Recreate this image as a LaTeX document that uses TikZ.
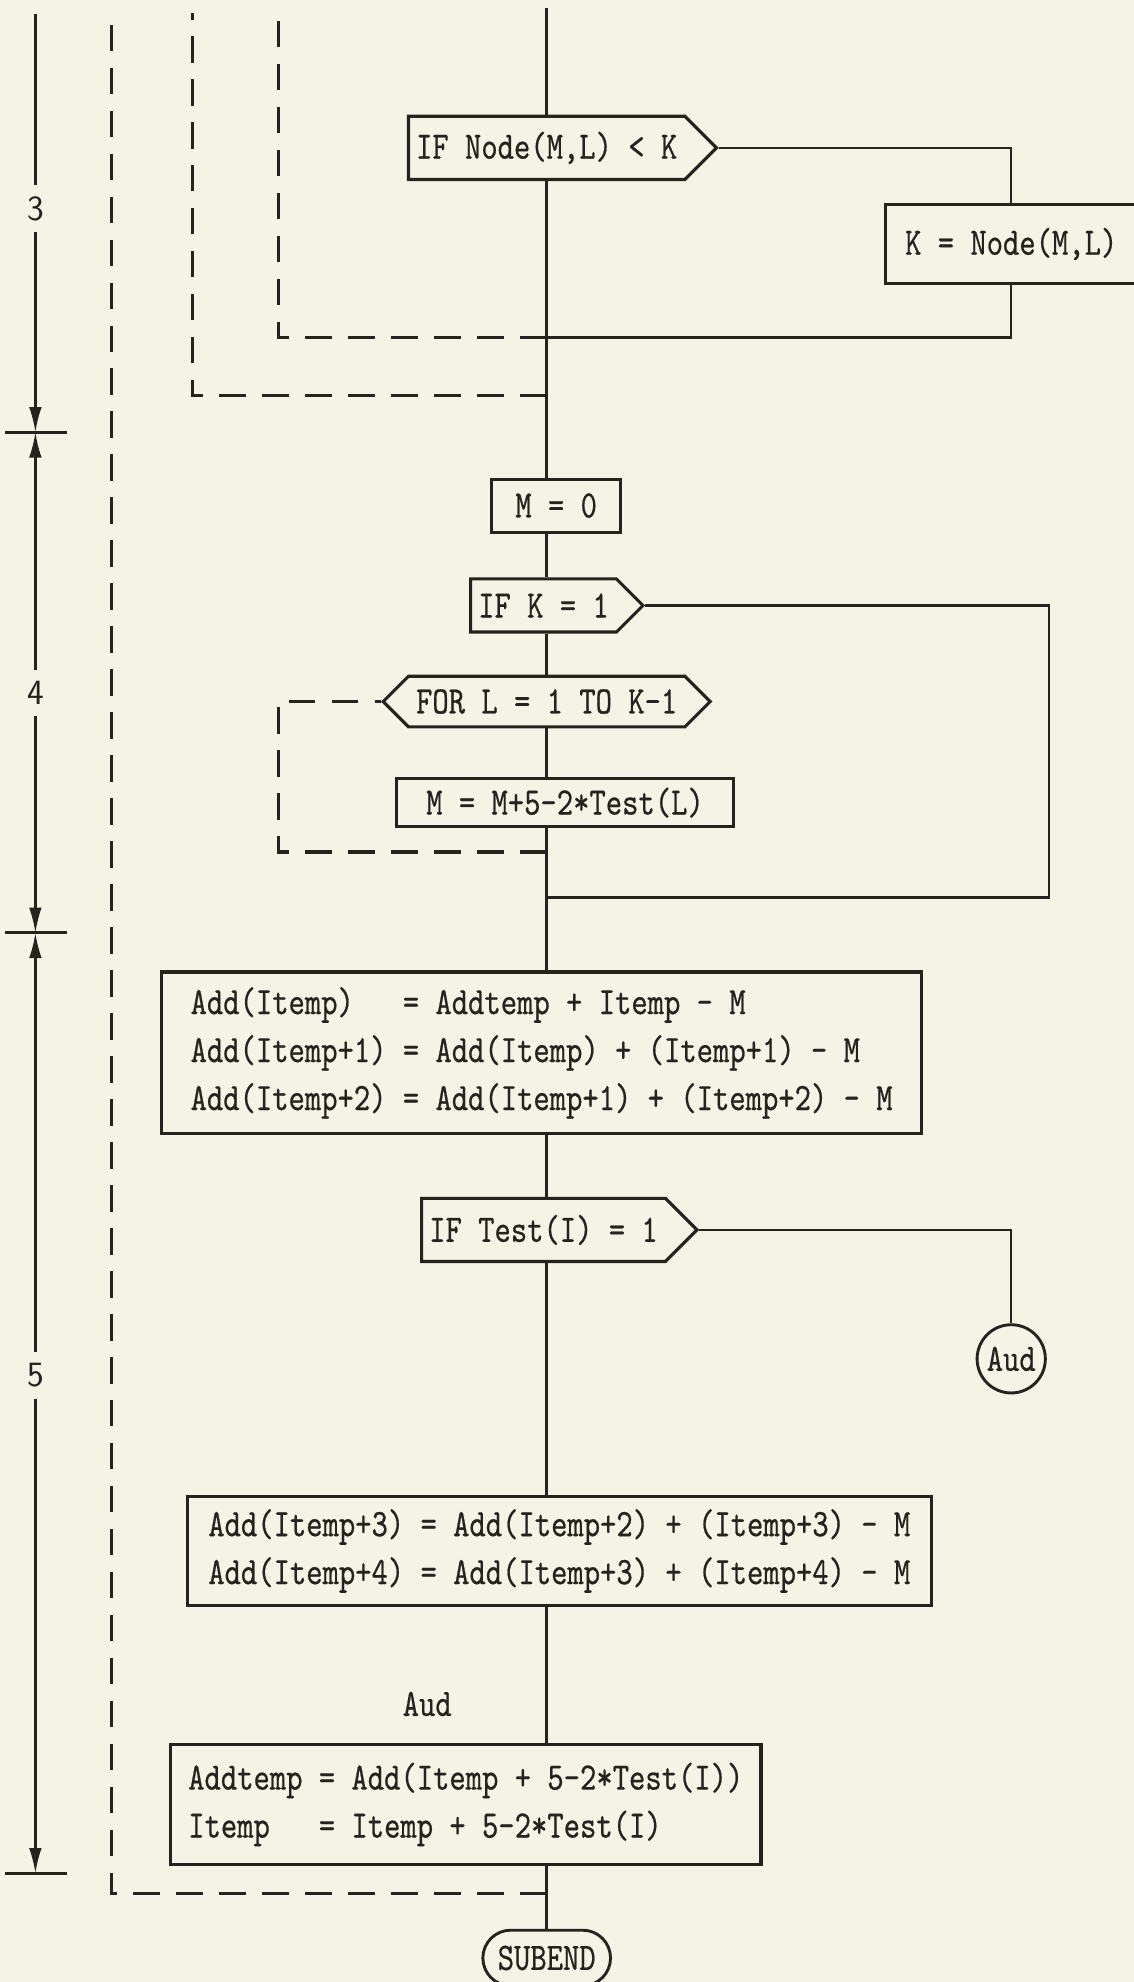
\documentclass[tikz,border=0pt]{standalone}
\usepackage{fontspec}
\newfontfamily\tw{lmmono10-regular.otf}[FakeStretch=0.8, FakeBold=0.5]
\newcommand\codefont{\fontsize{17.5}{21.6}\selectfont\tw}
\usepackage{tikz}
\usetikzlibrary{shapes.symbols, arrows.meta}
\definecolor{paper}{RGB}{244,243,230}
\definecolor{ink}{RGB}{38,34,30}

\begin{document}
\begin{tikzpicture}[
    color=ink, line width=1.1pt,
    box/.style={draw, rectangle, font=\codefont, inner xsep=0.2cm, line width=1.4pt},
    test/.style={draw, signal, signal to=east, signal pointer angle=90, font=\codefont,
        inner xsep=0.12cm, minimum height=1cm, line width=1.4pt},
    loopbox/.style={test, signal to=west and east},
    joint/.style={draw, circle, font=\codefont, inner sep=0pt, minimum size=1.08cm, line width=1.3pt},
    term/.style={draw, rectangle, rounded corners=0.44cm, font=\codefont, minimum width=2.02cm,
        minimum height=0.88cm, line width=1.3pt},
    frame/.style={line width=1.4pt, dash pattern=on 0.42cm off 0.26cm},
    dim/.style={line width=1pt, -{Latex[length=4mm, width=2mm]}},
    dimlabel/.style={font=\sffamily\fontsize{16}{16}\selectfont, inner sep=0.16cm}
]
    \fill[paper] (0, 0) rectangle (17.94, -31.36);
    \useasboundingbox (0, 0) rectangle (17.94, -31.36);

    % section 3
    \coordinate (top) at (8.65, -0.12);
    \node[test] (ifnode) at (8.65, -2.34) {IF Node(M,L) < K};
    \node[box, minimum width=3.98cm, minimum height=1.24cm] (kset) at (16.0, -3.86) {K = Node(M,L)};
    \coordinate (j3) at (8.65, -5.34);

    % section 4
    \node[box, minimum width=2.04cm, minimum height=0.84cm] (mzero) at (8.8, -8.0) {M = 0};
    \node[test, minimum height=0.84cm] (ifk) at (8.6, -9.58) {IF K = 1};
    \node[loopbox, minimum height=0.8cm] (forl) at (8.65, -11.1) {FOR L = 1 TO K-1};
    \node[box, minimum width=5.34cm, minimum height=0.76cm] (mstep) at (8.94, -12.7) {M = M+5-2*Test(L)};
    \coordinate (fl) at (4.4, -13.48);
    \coordinate (fj) at (8.65, -13.48);
    \coordinate (r4) at (16.6, -14.2);
    \coordinate (j4) at (8.65, -14.2);

    % section 5
    \node[box, align=left, minimum width=12.02cm, minimum height=2.56cm] (addlow) at (8.57, -16.66)
        {Add(Itemp)\ \ \ = Addtemp + Itemp - M\\
         Add(Itemp+1) = Add(Itemp) + (Itemp+1) - M\\
         Add(Itemp+2) = Add(Itemp+1) + (Itemp+2) - M};
    \node[test] (iftest) at (8.6, -19.46) {IF Test(I) = 1};
    \node[joint] (audout) at (16.0, -21.5) {Aud};
    \node[box, align=left, minimum width=11.78cm, minimum height=1.72cm] (addhigh) at (8.85, -24.54)
        {Add(Itemp+3) = Add(Itemp+2) + (Itemp+3) - M\\
         Add(Itemp+4) = Add(Itemp+3) + (Itemp+4) - M};
    \node[font=\codefont] (audin) at (6.76, -26.96) {Aud};
    \node[box, align=left, minimum width=9.34cm, minimum height=1.9cm] (advance) at (7.37, -28.55)
        {Addtemp = Add(Itemp + 5-2*Test(I))\\
         Itemp\ \ \ = Itemp + 5-2*Test(I)};
    \node[term] (subend) at (8.65, -30.98) {SUBEND};

    % main line
    \draw (top) -- (ifnode.north -| top);
    \draw (ifnode.south -| top) -- (mzero.north -| top);
    \draw (mzero.south -| top) -- (ifk.north -| top);
    \draw (ifk.south -| top) -- (forl.north);
    \draw (forl.south) -- (mstep.north -| top);
    \draw (mstep.south -| top) -- (addlow.north -| top);
    \draw (addlow.south -| top) -- (iftest.north -| top);
    \draw (iftest.south -| top) -- (addhigh.north -| top);
    \draw (addhigh.south -| top) -- (advance.north -| top);
    \draw (advance.south -| top) -- (subend.north);

    % branches
    \draw (ifnode.east) -| (kset.north);
    \draw (kset.south) |- (j3);
    \draw (ifk.east) -| (r4) -- (j4);
    \draw (iftest.east) -| (audout.north);

    % loop frames
    \coordinate (f1) at (1.76, -0.2);
    \coordinate (e1) at (8.65, -29.96);
    \coordinate (f2) at (3.04, -0.2);
    \coordinate (e2) at (8.65, -6.26);
    \coordinate (f3) at (4.4, -0.2);
    \draw[frame] (e1) -| (f1);
    \draw[frame] (e2) -| (f2);
    \draw[frame] (j3) -| (f3);
    \draw[frame] (fj) -- (fl) |- (forl.west);

    % step dimensions
    \coordinate (dtop) at (0.56, -0.22);
    \coordinate (t1) at (0.56, -6.84);
    \coordinate (t2) at (0.56, -14.76);
    \coordinate (t3) at (0.56, -29.64);
    \node[dimlabel] (n3) at (0.56, -3.3) {3};
    \node[dimlabel] (n4) at (0.56, -10.96) {4};
    \node[dimlabel] (n5) at (0.56, -21.76) {5};
    \draw[line width=1pt] (dtop) -- (n3.north);
    \draw[dim] (n3.south) -- (t1);
    \draw[dim] (n4.north) -- (t1);
    \draw[dim] (n4.south) -- (t2);
    \draw[dim] (n5.north) -- (t2);
    \draw[dim] (n5.south) -- (t3);
    \foreach \t in {t1, t2, t3}
        \draw[line width=1.4pt] ([xshift=-0.48cm]\t) -- ([xshift=0.5cm]\t);
\end{tikzpicture}
\end{document}
